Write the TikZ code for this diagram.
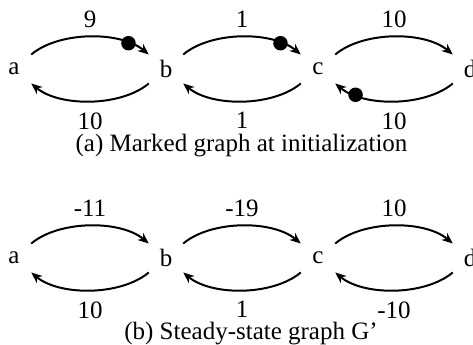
\documentclass[tikz,border=0pt]{standalone}
\usepackage{fontspec}
\setmainfont{Liberation Serif}
\usepackage{tikz}
\usetikzlibrary{arrows.meta}

\begin{document}
\begin{tikzpicture}[x=0.4pt,y=0.4pt]

\tikzset{
vertex/.style={
circle,
inner sep=0pt,
minimum size=17.6pt,
font=\fontsize{10}{12}\selectfont
},
arc/.style={
line width=0.8pt,
-{Stealth[length=4.4pt,width=3.6pt,inset=1.4pt]},
bend left=40,
looseness=0.8
},
token/.style={
circle,
fill=black,
inner sep=0pt,
minimum size=5.8pt
},
weight/.style={
font=\fontsize{10}{12}\selectfont
},
lower/.style={
weight,
below,
yshift=-0.8pt
}
}

\useasboundingbox (0,0) rectangle (473,-345);

%--------------------------------------------------
% (a) MARKED GRAPH
%--------------------------------------------------

\node[vertex] (a1) at (14,-69) {a};
\node[vertex] (b1) at (166,-69) {b};
\node[vertex] (c1) at (318,-69) {c};
\node[vertex] (d1) at (470,-69) {d};

\draw[arc] (a1) to node[weight,above] {9} node[token,pos=0.8] {} (b1);
\draw[arc] (b1) to node[weight,above] {1} node[token,pos=0.8] {} (c1);
\draw[arc] (c1) to node[weight,above] {10} (d1);

\draw[arc] (b1) to node[lower] {10} (a1);
\draw[arc] (c1) to node[lower] {1} (b1);
\draw[arc] (d1) to node[lower] {10} node[token,pos=0.8] {} (c1);

\node[weight,anchor=base] (capa) at (241.5,-152) {(a) Marked graph at initialization};

%--------------------------------------------------
% (b) STEADY-STATE GRAPH
%--------------------------------------------------

\node[vertex] (a2) at (14,-258) {a};
\node[vertex] (b2) at (166,-258) {b};
\node[vertex] (c2) at (318,-258) {c};
\node[vertex] (d2) at (470,-258) {d};

\draw[arc] (a2) to node[weight,above] {-11} (b2);
\draw[arc] (b2) to node[weight,above] {-19} (c2);
\draw[arc] (c2) to node[weight,above] {10} (d2);

\draw[arc] (b2) to node[lower] {10} (a2);
\draw[arc] (c2) to node[lower] {1} (b2);
\draw[arc] (d2) to node[lower] {-10} (c2);

\node[weight,anchor=base] (capb) at (251,-339.5) {(b) Steady-state graph G'};

\end{tikzpicture}
\end{document}
